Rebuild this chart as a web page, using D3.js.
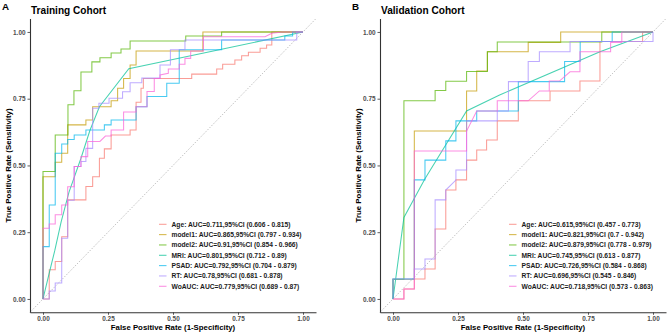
<!DOCTYPE html>
<html>
<head>
<meta charset="utf-8">
<script src="https://cdn.jsdelivr.net/npm/d3@7"></script>
<style>
  body { margin: 0; background: #fff; }
  svg text { font-family: "Liberation Sans", Arial, sans-serif; }
</style>
</head>
<body>
<svg id="root" width="668" height="334"></svg>
<script>
// series names + per-panel AUC / CI
const seriesNames = ['Age', 'model1', 'model2', 'MRI', 'PSAD', 'RT', 'WoAUC'];
const seriesColors = ['#F8766D', '#C49A00', '#53B400', '#00C094', '#00B6EB', '#A58AFF', '#FB61D7'];

const aucTrain  = [0.711, 0.865, 0.91, 0.801, 0.792, 0.78, 0.779];
const ciLoTrain = [0.606, 0.797, 0.854, 0.712, 0.704, 0.681, 0.689];
const ciHiTrain = [0.815, 0.934, 0.966, 0.89, 0.879, 0.878, 0.87];

const aucValid  = [0.615, 0.821, 0.879, 0.745, 0.726, 0.696, 0.718];
const ciLoValid = [0.457, 0.7, 0.778, 0.613, 0.584, 0.545, 0.573];
const ciHiValid = [0.773, 0.942, 0.979, 0.877, 0.868, 0.846, 0.863];

const axisTicks = [0, 0.25, 0.5, 0.75, 1];

// ROC points [fpr, tpr], training cohort
const trainAge = [[0,0],[0.024,0],[0.024,0.109],[0.047,0.109],[0.047,0.14],[0.072,0.14],[0.072,0.233],[0.095,0.233],[0.095,0.371],[0.165,0.371],[0.165,0.421],[0.191,0.421],[0.191,0.458],[0.217,0.458],[0.217,0.527],[0.236,0.527],[0.236,0.562],[0.262,0.562],[0.262,0.614],[0.335,0.614],[0.335,0.633],[0.358,0.633],[0.358,0.737],[0.377,0.737],[0.377,0.789],[0.386,0.789],[0.386,0.826],[0.572,0.826],[0.572,0.842],[0.668,0.842],[0.668,0.861],[0.691,0.861],[0.691,0.879],[0.738,0.879],[0.738,0.895],[0.764,0.895],[0.764,0.911],[0.79,0.911],[0.79,0.924],[0.835,0.924],[0.835,0.939],[0.86,0.939],[0.86,0.951],[0.88,0.951],[0.88,1],[1,1]];
const trainModel1 = [[0,0],[0,0.458],[0.047,0.458],[0.047,0.512],[0.072,0.512],[0.072,0.546],[0.095,0.546],[0.095,0.652],[0.165,0.652],[0.165,0.67],[0.191,0.67],[0.191,0.72],[0.262,0.72],[0.262,0.742],[0.287,0.742],[0.287,0.789],[0.31,0.789],[0.31,0.826],[0.335,0.826],[0.335,0.876],[0.358,0.876],[0.358,0.929],[0.615,0.929],[0.615,1],[1,1]];
const trainModel2 = [[0,0],[0,0.477],[0.047,0.477],[0.047,0.614],[0.096,0.614],[0.096,0.727],[0.119,0.727],[0.119,0.78],[0.146,0.78],[0.146,0.85],[0.188,0.85],[0.188,0.888],[0.219,0.888],[0.219,0.903],[0.262,0.903],[0.262,0.921],[0.3,0.921],[0.3,0.936],[0.335,0.936],[0.335,0.966],[0.549,0.966],[0.549,0.985],[0.687,0.985],[0.687,1],[1,1]];
const trainMRI = [[0,0],[0.027,0.109],[0.045,0.18],[0.07,0.29],[0.1,0.4],[0.146,0.527],[0.18,0.63],[0.217,0.72],[0.33,0.862],[0.687,0.935],[1,1]];
const trainPSAD = [[0,0],[0,0.196],[0.024,0.196],[0.024,0.352],[0.047,0.352],[0.047,0.546],[0.072,0.546],[0.072,0.58],[0.095,0.58],[0.095,0.597],[0.12,0.597],[0.12,0.614],[0.165,0.614],[0.165,0.633],[0.236,0.633],[0.236,0.652],[0.262,0.652],[0.262,0.67],[0.358,0.67],[0.358,0.72],[0.4,0.72],[0.4,0.758],[0.476,0.758],[0.476,0.808],[0.524,0.808],[0.524,0.933],[0.687,0.933],[0.687,0.97],[0.93,0.97],[0.93,0.985],[0.96,0.985],[0.96,1],[1,1]];
const trainRT = [[0,0],[0.024,0],[0.024,0.03],[0.047,0.03],[0.047,0.06],[0.072,0.06],[0.072,0.227],[0.095,0.227],[0.095,0.37],[0.12,0.37],[0.12,0.496],[0.146,0.496],[0.146,0.515],[0.165,0.515],[0.165,0.564],[0.191,0.564],[0.191,0.714],[0.215,0.714],[0.215,0.733],[0.254,0.733],[0.254,0.752],[0.306,0.752],[0.306,0.776],[0.335,0.776],[0.335,0.81],[0.38,0.81],[0.38,0.827],[0.45,0.827],[0.45,0.876],[0.49,0.876],[0.49,0.933],[0.546,0.933],[0.546,0.97],[0.976,0.97],[0.976,1],[1,1]];
const trainWoAUC = [[0,0],[0,0.265],[0.024,0.265],[0.024,0.281],[0.047,0.281],[0.047,0.315],[0.072,0.315],[0.072,0.352],[0.095,0.352],[0.095,0.42],[0.12,0.42],[0.12,0.496],[0.146,0.496],[0.146,0.533],[0.172,0.533],[0.172,0.59],[0.219,0.59],[0.24,0.61],[0.262,0.61],[0.262,0.633],[0.31,0.633],[0.31,0.7],[0.358,0.7],[0.358,0.72],[0.4,0.72],[0.4,0.777],[0.428,0.777],[0.428,0.826],[0.45,0.826],[0.45,0.839],[0.482,0.845],[0.482,0.861],[0.524,0.861],[0.524,0.879],[0.546,0.879],[0.546,0.901],[0.568,0.901],[0.568,0.929],[0.617,0.929],[0.617,0.982],[0.854,0.982],[0.88,0.995],[0.92,1],[1,1]];

// ROC points [fpr, tpr], validation cohort
const validAge = [[0,0],[0.042,0],[0.042,0.037],[0.082,0.037],[0.082,0.075],[0.123,0.075],[0.123,0.112],[0.162,0.112],[0.162,0.262],[0.203,0.262],[0.203,0.408],[0.242,0.408],[0.242,0.446],[0.283,0.446],[0.283,0.52],[0.322,0.52],[0.322,0.558],[0.36,0.558],[0.36,0.595],[0.401,0.595],[0.401,0.667],[0.482,0.667],[0.482,0.742],[0.604,0.742],[0.604,0.779],[0.719,0.779],[0.719,0.816],[0.796,0.816],[0.796,0.964],[0.96,0.964],[0.96,1],[1,1]];
const validModel1 = [[0,0],[0,0.074],[0.082,0.074],[0.082,0.629],[0.283,0.629],[0.283,0.779],[0.322,0.779],[0.322,0.854],[0.363,0.854],[0.363,0.926],[0.52,0.926],[0.52,0.961],[0.645,0.961],[0.645,1],[1,1]];
const validModel2 = [[0,0],[0,0.074],[0.042,0.074],[0.042,0.742],[0.162,0.742],[0.162,0.781],[0.203,0.781],[0.203,0.815],[0.283,0.815],[0.283,0.852],[0.363,0.852],[0.363,0.926],[0.401,0.926],[0.401,0.962],[0.803,0.962],[0.803,1],[1,1]];
const validMRI = [[0,0],[0.042,0.305],[0.123,0.45],[0.283,0.704],[0.41,0.764],[0.796,0.926],[1,1]];
const validPSAD = [[0,0],[0,0.075],[0.082,0.075],[0.082,0.446],[0.123,0.446],[0.123,0.52],[0.203,0.52],[0.203,0.592],[0.242,0.592],[0.242,0.667],[0.322,0.667],[0.322,0.704],[0.482,0.704],[0.482,0.814],[0.66,0.814],[0.66,0.889],[0.72,0.889],[0.72,0.964],[0.843,0.964],[0.843,1],[1,1]];
const validRT = [[0,0],[0,0.075],[0.082,0.075],[0.082,0.112],[0.123,0.112],[0.123,0.15],[0.162,0.15],[0.162,0.371],[0.203,0.371],[0.203,0.408],[0.242,0.445],[0.242,0.483],[0.283,0.483],[0.283,0.667],[0.401,0.667],[0.401,0.704],[0.444,0.704],[0.444,0.814],[0.52,0.814],[0.52,0.889],[0.563,0.889],[0.563,0.926],[0.681,0.926],[0.681,0.964],[1,0.964],[1,1]];
const validWoAUC = [[0,0],[0.042,0],[0.042,0.037],[0.082,0.037],[0.082,0.554],[0.283,0.554],[0.283,0.629],[0.322,0.704],[0.401,0.704],[0.401,0.742],[0.52,0.742],[0.563,0.779],[0.601,0.779],[0.601,0.816],[0.64,0.816],[0.681,0.851],[0.719,0.851],[0.719,0.926],[0.837,0.926],[0.837,0.961],[0.88,0.961],[0.88,1],[1,1]];

const panels = [
  { letter: 'A', title: 'Training Cohort', x0: 30, legendX: 159,
    rocs: [trainAge, trainModel1, trainModel2, trainMRI, trainPSAD, trainRT, trainWoAUC],
    auc: aucTrain, lo: ciLoTrain, hi: ciHiTrain },
  { letter: 'B', title: 'Validation Cohort', x0: 380, legendX: 509,
    rocs: [validAge, validModel1, validModel2, validMRI, validPSAD, validRT, validWoAUC],
    auc: aucValid, lo: ciLoValid, hi: ciHiValid }
];

const plotW = 286, plotTop = 18.6, plotBottom = 312.3;
const svg = d3.select('#root');

panels.forEach(p => {
  const g = svg.append('g');

  const x = d3.scaleLinear().domain([-0.05, 1.05]).range([p.x0, p.x0 + plotW]);
  const y = d3.scaleLinear().domain([-0.05, 1.05]).range([plotBottom, plotTop]);

  // reference diagonal
  g.append('line')
    .attr('x1', x(-0.05)).attr('y1', y(-0.05))
    .attr('x2', x(1.05)).attr('y2', y(1.05))
    .attr('stroke', '#9a9a9a').attr('stroke-width', 0.8)
    .attr('stroke-dasharray', '1,1.6');

  const line = d3.line().x(d => x(d[0])).y(d => y(d[1]));

  p.rocs.forEach((roc, i) => {
    g.append('path')
      .attr('d', line(roc))
      .attr('fill', 'none')
      .attr('stroke', seriesColors[i])
      .attr('stroke-opacity', 0.72)
      .attr('stroke-width', 1.05);
  });

  // axes
  const axisY = d3.axisLeft(y).tickValues(axisTicks).tickFormat(d3.format('.2f')).tickSize(2.5).tickSizeOuter(0).tickPadding(2);
  const axisX = d3.axisBottom(x).tickValues(axisTicks).tickFormat(d3.format('.2f')).tickSize(2.5).tickSizeOuter(0).tickPadding(2);

  const gy = g.append('g').attr('transform', `translate(${p.x0},0)`).call(axisY);
  const gx = g.append('g').attr('transform', `translate(0,${plotBottom})`).call(axisX);

  [gx, gy].forEach(a => {
    a.select('.domain').attr('stroke', '#333').attr('stroke-width', 1.1);
    a.selectAll('.tick line').attr('stroke', '#333').attr('stroke-width', 0.8);
    a.selectAll('.tick text')
      .attr('fill', '#4d4d4d')
      .attr('font-size', '6.4px')
      .attr('font-weight', 'bold')
      .attr('font-family', '"Liberation Sans", Arial, sans-serif');
  });

  // axis titles
  g.append('text')
    .attr('x', x(0.5)).attr('y', 329.5)
    .attr('text-anchor', 'middle')
    .attr('font-size', '7.8px').attr('font-weight', 'bold')
    .text('False Positive Rate (1-Specificity)');

  g.append('text')
    .attr('transform', `translate(${p.x0 - 19},${(plotTop + plotBottom) / 2}) rotate(-90)`)
    .attr('text-anchor', 'middle')
    .attr('font-size', '7.8px').attr('font-weight', 'bold')
    .text('True Positive Rate (Sensitivity)');

  // title + panel letter
  g.append('text')
    .attr('x', p.x0 + 1).attr('y', 13.5)
    .attr('font-size', '10.1px').attr('font-weight', 'bold')
    .text(p.title);

  g.append('text')
    .attr('x', p.x0 - 28).attr('y', 9.5)
    .attr('font-size', '9.8px').attr('font-weight', 'bold')
    .text(p.letter);

  // legend
  const legend = g.append('g').attr('transform', `translate(${p.legendX},224.3)`);
  seriesNames.forEach((name, i) => {
    const row = legend.append('g').attr('transform', `translate(0,${i * 10.33})`);
    row.append('line')
      .attr('x1', 0).attr('x2', 7.5).attr('y1', 0).attr('y2', 0)
      .attr('stroke', seriesColors[i]).attr('stroke-opacity', 0.72).attr('stroke-width', 1.05);
    row.append('text')
      .attr('x', 12.5).attr('y', 2.3)
      .attr('font-size', '6.7px').attr('font-weight', 'bold')
      .attr('fill', '#1a1a1a')
      .text(`${name}: AUC=${p.auc[i]},95%CI (${p.lo[i]} - ${p.hi[i]})`);
  });
});
</script>
</body>
</html>
